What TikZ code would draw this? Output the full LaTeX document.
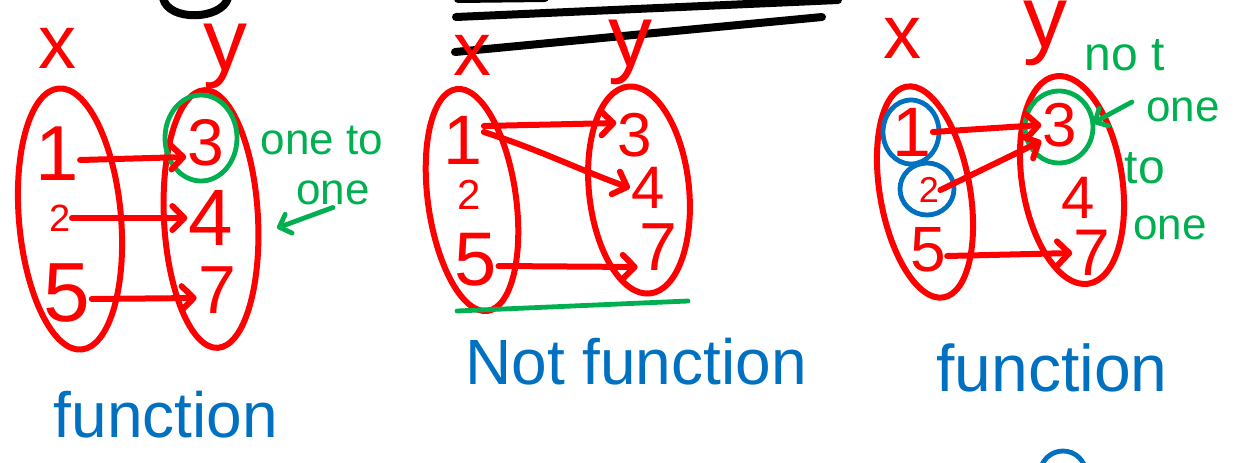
\documentclass[tikz,border=0pt]{standalone}
\usepackage{fontspec}
\setmainfont{Liberation Sans}
\usetikzlibrary{arrows.meta}
\definecolor{hred}{RGB}{255,0,0}
\definecolor{hgreen}{RGB}{0,176,80}
\definecolor{hblue}{RGB}{0,112,192}
\begin{document}
\begin{tikzpicture}[x=0.5pt,y=-0.5pt,
  pen/.style={line width=3pt, line cap=round, line join=round},
  redset/.style={pen, draw=hred},
  greenring/.style={pen, line width=2.4pt, draw=hgreen},
  bluering/.style={pen, line width=2.4pt, draw=hblue},
  bline/.style={pen, line width=4pt, draw=black},
  conn/.style={pen, draw=hred, -{Straight Barb[round, length=6pt, width=12pt]}},
  gconn/.style={pen, line width=2.4pt, draw=hgreen, -{Straight Barb[round, length=5pt, width=10pt]}},
  num/.style={text=hred, inner sep=0.5pt, font=\fontsize{#1}{#1}\selectfont},
  glab/.style={text=hgreen, inner sep=1pt, font=\fontsize{#1}{#1}\selectfont},
  blab/.style={text=hblue, inner sep=1pt, font=\fontsize{#1}{#1}\selectfont}]
\useasboundingbox (0,0) rectangle (1239,462);

% ---------- top strokes ----------
\draw[bline] (163,-2) .. controls (168,22) and (222,20) .. (228,-2);
\draw[bline] (458,-1) -- (545,-2);
\draw[bline] (456,17) -- (838,0);
\draw[bline] (455,52) -- (822,17);

% ---------- panel 1 ----------
\node[num=38] (p1x) at (58,48) {x};
\node[num=44] (p1y) at (225,56) {y};
\draw[redset] (70,219) ellipse [x radius=51, y radius=131, rotate=5];
\draw[redset] (211,219) ellipse [x radius=47, y radius=129, rotate=3];
\node[num=39] (p1a1) at (57,154) {1};
\node[num=19] (p1a2) at (60,218) {2};
\node[num=42] (p1a5) at (67,293) {5};
\node[num=33] (p1b3) at (206,143) {3};
\node[num=40] (p1b4) at (211,218) {4};
\node[num=34] (p1b7) at (217,290) {7};
\draw[greenring] (201,138) ellipse [x radius=36, y radius=43];
\draw[conn] ([yshift=-3pt]p1a1.east) -- ([yshift=-7pt]p1b3.west);
\draw[conn] (p1a2.east) -- (p1b4.west);
\draw[conn] ([yshift=-3pt]p1a5.east) -- ([yshift=-4pt]p1b7.west);
\node[glab=22] (p1t1) at (322,140) {one to};
\node[glab=22] (p1t2) at (333,193) {one};
\coordinate (p1ae) at (277,228);
\draw[gconn] (p1t2.south) -- (p1ae);
\node[blab=32] (p1f) at (166,415) {function};

% ---------- panel 2 ----------
\node[num=38] (p2x) at (472,55) {x};
\node[num=44] (p2y) at (630,52) {y};
\draw[redset] (472,200) ellipse [x radius=44, y radius=112, rotate=8];
\draw[redset] (639,190) ellipse [x radius=50, y radius=104, rotate=6];
\node[num=35] (p2a1) at (463,140) {1};
\node[num=21] (p2a2) at (469,195) {2};
\node[num=38] (p2a5) at (476,260) {5};
\node[num=31] (p2b3) at (635,135) {3};
\node[num=30] (p2b4) at (648,188) {4};
\node[num=34] (p2b7) at (658,247) {7};
\draw[conn] ([yshift=7pt]p2a1.east) -- ([yshift=6pt]p2b3.west);
\draw[conn] ([yshift=4pt]p2a1.east) .. controls (540,150) and (575,168) .. (p2b4.west);
\draw[conn] ([yshift=-3pt]p2a5.east) -- ([yshift=-10pt]p2b7.west);
\draw[pen, line width=2.4pt, draw=hgreen] (457,311) -- (688,301);
\node[blab=32] (p2f) at (636,362) {Not function};

% ---------- panel 3 ----------
\node[num=38] (p3x) at (902,38) {x};
\node[num=44] (p3y) at (1045,33) {y};
\draw[redset] (925,192) ellipse [x radius=45, y radius=107, rotate=10];
\draw[redset] (1072,180) ellipse [x radius=50, y radius=105, rotate=9];
\node[num=35] (p3a1) at (912,132) {1};
\node[num=18] (p3a2) at (929,190) {2};
\node[num=32] (p3a5) at (928,250) {5};
\node[num=31] (p3b3) at (1060,125) {3};
\node[num=30] (p3b4) at (1078,198) {4};
\node[num=33] (p3b7) at (1092,253) {7};
\draw[bluering] (911,132) ellipse [x radius=28, y radius=32];
\draw[bluering] (927,189) ellipse [x radius=27, y radius=26];
\draw[greenring] (1059,127) ellipse [x radius=34, y radius=36];
\draw[conn] (p3a1.east) -- (p3b3.west);
\draw[conn] (p3a2.east) -- ([yshift=-8pt]p3b3.west);
\draw[conn] ([yshift=-3pt]p3a5.east) -- (p3b7.west);
\node[glab=24] (p3n) at (1125,55) {no\kern7pt t};
\node[glab=22] (p3o1) at (1183,110) {one};
\node[glab=24] (p3t) at (1145,168) {to};
\node[glab=22] (p3o2) at (1170,228) {one};
\coordinate (p3ae) at (1093,123);
\draw[gconn] ([xshift=-6pt,yshift=4pt]p3o1.west) -- (p3ae);
\node[blab=33] (p3f) at (1052,368) {function};
\draw[bluering] (1063,474) circle [radius=23];
\end{tikzpicture}
\end{document}
